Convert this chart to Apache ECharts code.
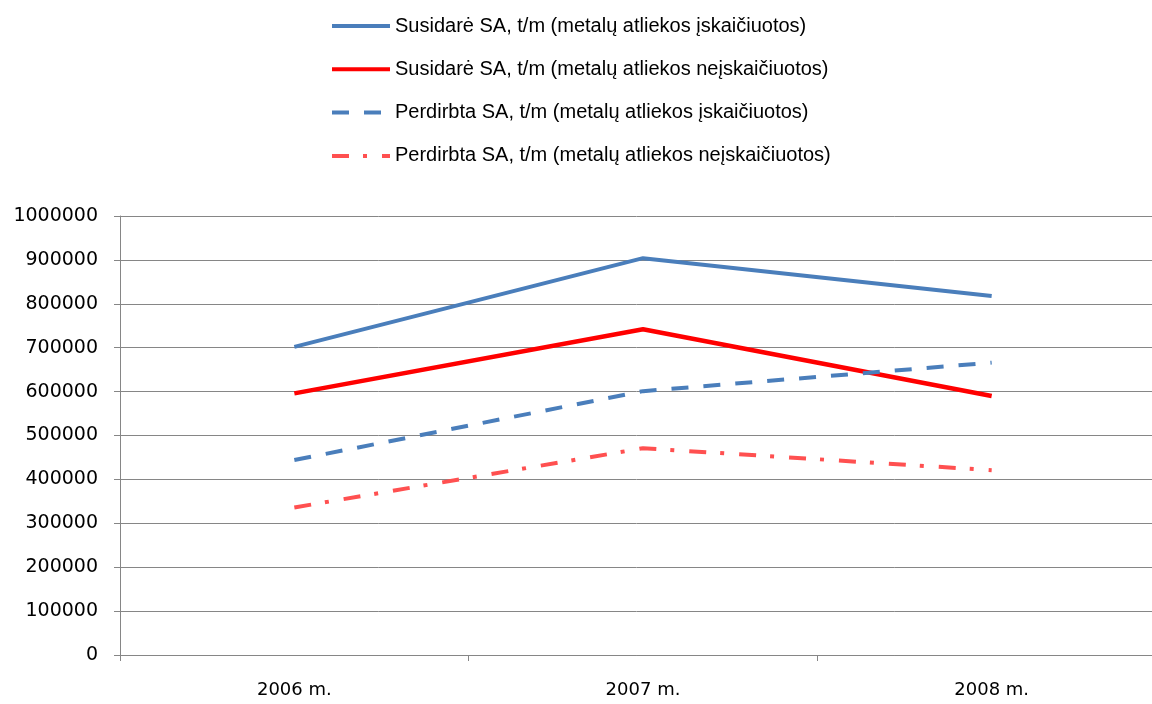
<!DOCTYPE html>
<html>
<head>
<meta charset="utf-8">
<script src="https://cdn.jsdelivr.net/npm/echarts@6/dist/echarts.min.js"></script>
<style>
html,body{margin:0;padding:0;background:#fff;}
#chart{width:1152px;height:704px;}
</style>
</head>
<body>
<div id="chart"></div>
<script>
const categories = ['2006 m.', '2007 m.', '2008 m.'];
const seriesNames = [
  'Susidarė SA, t/m (metalų atliekos įskaičiuotos)',
  'Susidarė SA, t/m (metalų atliekos neįskaičiuotos)',
  'Perdirbta SA, t/m (metalų atliekos įskaičiuotos)',
  'Perdirbta SA, t/m (metalų atliekos neįskaičiuotos)'
];
const susidareIsk = [702000, 904000, 818000];
const susidareNeisk = [596000, 742000, 590000];
const perdirbtaIsk = [444000, 601000, 666000];
const perdirbtaNeisk = [336000, 471000, 421000];
const yTicks = { min: 0, max: 1000000, interval: 100000 };

const chart = echarts.init(document.getElementById('chart'), null, { renderer: 'canvas' });
const gridColor = '#868686';
const seriesData = [susidareIsk, susidareNeisk, perdirbtaIsk, perdirbtaNeisk];
const styles = [
  { color: '#4a7ebb', width: 4, type: 'solid' },
  { color: '#ff0000', width: 4.5, type: 'solid' },
  { color: '#4a7ebb', width: 4, type: [17, 15] },
  { color: '#ff5050', width: 4, type: [17, 14, 4, 15] }
];
chart.setOption({
  animation: false,
  backgroundColor: '#ffffff',
  legend: {
    orient: 'vertical',
    left: 330,
    top: 16,
    padding: 0,
    itemWidth: 58,
    itemHeight: 20,
    itemGap: 23.3,
    itemStyle: { opacity: 0 },
    lineStyle: { width: 4 },
    textStyle: { fontFamily: 'Liberation Sans', fontSize: 20, color: '#000', lineHeight: 20 },
    data: seriesNames
  },
  grid: { left: 120, top: 216, width: 1046, height: 439, containLabel: false, outerBoundsMode: 'none' },
  xAxis: {
    type: 'category',
    data: categories,
    boundaryGap: true,
    axisLine: { lineStyle: { color: gridColor, width: 1 } },
    axisTick: { show: true, length: 6, lineStyle: { color: gridColor } },
    axisLabel: { fontFamily: 'DejaVu Sans', fontSize: 18, color: '#000', margin: 26 },
    splitLine: { show: false }
  },
  yAxis: {
    type: 'value',
    min: yTicks.min, max: yTicks.max, interval: yTicks.interval,
    axisLine: { show: true, lineStyle: { color: gridColor, width: 1 } },
    axisTick: { show: true, length: 6, lineStyle: { color: gridColor } },
    axisLabel: { fontFamily: 'DejaVu Sans', fontSize: 19, color: '#000', margin: 22, padding: [3, 0, 0, 0], formatter: v => String(v) },
    splitLine: { show: true, lineStyle: { color: gridColor, width: 1 } }
  },
  series: seriesNames.map((name, i) => ({
    name: name,
    type: 'line',
    data: seriesData[i],
    symbol: 'none',
    color: styles[i].color,
    lineStyle: { color: styles[i].color, width: styles[i].width, type: styles[i].type }
  }))
});
</script>
</body>
</html>
